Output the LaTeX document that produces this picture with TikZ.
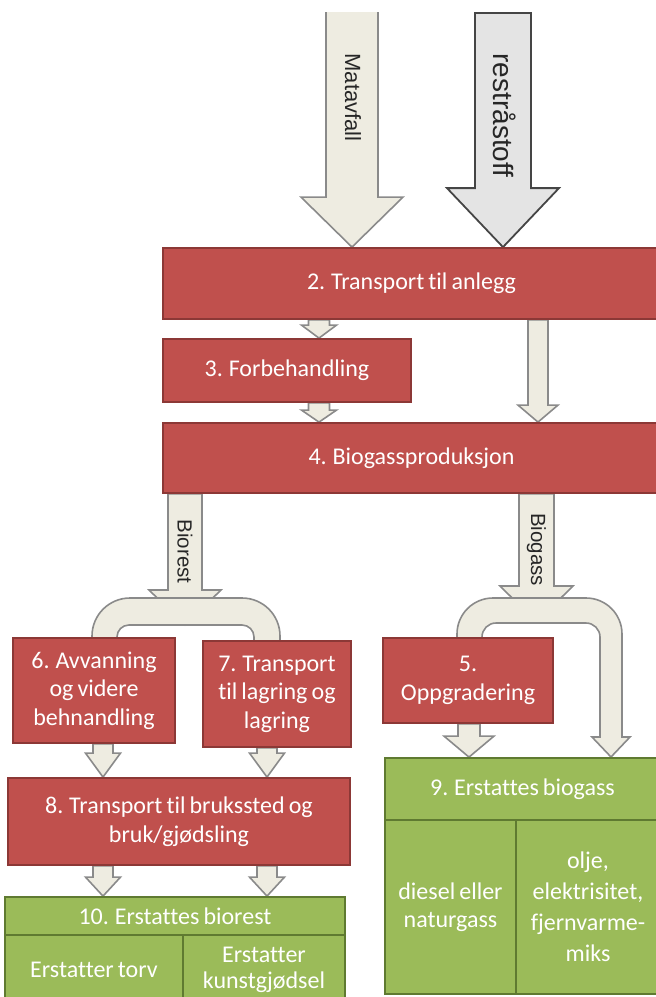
\documentclass[tikz,border=0pt]{standalone}
\usepackage{fontspec}
\setmainfont{Carlito}[Ligatures=CommonOff, WordSpace=0.75]
\newfontfamily\labelfont{Liberation Sans}
\usetikzlibrary{calc}
\pgfdeclarelayer{background}
\pgfsetlayers{background,main}

\definecolor{boxred}{HTML}{C0504D}
\definecolor{redline}{HTML}{8C3836}
\definecolor{boxgreen}{HTML}{9BBB59}
\definecolor{greenline}{HTML}{5F7A31}
\definecolor{pipefill}{HTML}{EEECE1}
\definecolor{pipeline}{HTML}{8A8A8A}
\definecolor{feedfill}{HTML}{E4E4E4}
\definecolor{feedline}{HTML}{454545}

\tikzset{
  boxtext/.style={text=white, align=center, inner sep=0pt,
    font=\fontsize{24}{28.5}\selectfont},
  redbox/.style={boxtext, draw=redline, fill=boxred, line width=1.8pt},
  greenbox/.style={boxtext, draw=greenline, fill=boxgreen, line width=1.8pt},
  pipe/.style={draw=pipeline, fill=pipefill, line width=1.6pt, line join=miter},
  feedpipe/.style={draw=feedline, fill=feedfill, line width=1.8pt, line join=miter},
  flowlabel/.style={rotate=-90, text=black!85, inner sep=0pt},
}

% block arrow: #1 style, #2 start point, #3 tip point,
% #4 half shaft width, #5 half head width, #6 head length
\newcommand\blockarrow[6]{%
  \draw[#1] let \p1=#2, \p2=#3 in
    (\x1-#4,\y1) -- (\x1-#4,\y2+#6) -- (\x1-#5,\y2+#6) -- (\x2,\y2)
    -- (\x1+#5,\y2+#6) -- (\x1+#4,\y2+#6) -- (\x1+#4,\y1) -- cycle;}

\begin{document}
\begin{tikzpicture}[x=1pt,y=-1pt]
\path[use as bounding box, clip] (0,0) rectangle (656,997);

% process boxes
\node[redbox, minimum width=497pt, minimum height=71pt] (b2) at (411.5,283.5) {2. Transport til anlegg};
\node[redbox, minimum width=248pt, minimum height=63pt] (b3) at (287,370.5) {3. Forbehandling};
\node[redbox, minimum width=497pt, minimum height=70pt] (b4) at (411.5,458) {4. Biogassproduksjon};
\node[redbox, minimum width=170pt, minimum height=85pt] (b5) at (468,680.5) {5.\\Oppgradering};
\node[redbox, minimum width=162pt, minimum height=105pt] (b6) at (94,690.5) {6. Avvanning\\og videre\\behnandling};
\node[redbox, minimum width=148pt, minimum height=106pt] (b7) at (277,694) {7. Transport\\til lagring og\\lagring};
\node[redbox, minimum width=342pt, minimum height=87pt] (b8) at (179,821.5) {8. Transport til brukssted og\\bruk/gjødsling};

% substitution boxes
\node[greenbox, minimum width=275pt, minimum height=62pt] (b9) at (522.5,789) {9. Erstattes biogass};
\node[greenbox, minimum width=131pt, minimum height=174pt] (b9a) at (450.5,907) {diesel eller\\naturgass};
\node[greenbox, minimum width=144pt, minimum height=174pt, font=\fontsize{24}{31}\selectfont] (b9b) at (588,907) {olje,\\elektrisitet,\\fjernvarme-\\miks};
\node[greenbox, minimum width=340pt, minimum height=38pt] (b10) at (175,916) {10. Erstattes biorest};
\node[greenbox, minimum width=178pt, minimum height=70pt] (b10a) at (94,970) {Erstatter torv};
\node[greenbox, minimum width=162pt, minimum height=70pt, font=\fontsize{24}{26}\selectfont] (b10b) at (264,970) {Erstatter\\kunstgjødsel};

% arrow axes
\coordinate (xmat) at (352,12);
\coordinate (xrest) at (503,13);
\coordinate (xpre) at (319,0);
\coordinate (xbypass) at (538,0);
\coordinate (xbio) at (185,0);
\coordinate (xgas) at (536.5,0);
\coordinate (xl) at (103,0);
\coordinate (xr) at (267,0);
\coordinate (xup) at (469,0);

\begin{pgfonlayer}{background}
  % incoming flows
  \fill[pipefill] let \p1=(xmat), \p2=(xmat |- b2.north) in
    (\x1-26pt,\y1) -- (\x1-26pt,\y2+50pt) -- (\x1-51pt,\y2+50pt) -- (\x2,\y2)
    -- (\x1+51pt,\y2+50pt) -- (\x1+26pt,\y2+50pt) -- (\x1+26pt,\y1) -- cycle;
  \draw[pipeline, line width=1.6pt, line join=miter] let \p1=(xmat), \p2=(xmat |- b2.north) in
    (\x1-26pt,\y1) -- (\x1-26pt,\y2+50pt) -- (\x1-51pt,\y2+50pt) -- (\x2,\y2)
    -- (\x1+51pt,\y2+50pt) -- (\x1+26pt,\y2+50pt) -- (\x1+26pt,\y1);
  \blockarrow{feedpipe}{(xrest)}{(xrest |- b2.north)}{28pt}{56pt}{59pt}

  % through the plant
  \blockarrow{pipe}{(xpre |- b2.south)}{(xpre |- b3.north)}{10.5pt}{17.5pt}{13pt}
  \blockarrow{pipe}{(xpre |- b3.south)}{(xpre |- b4.north)}{10.5pt}{17.5pt}{12pt}
  \blockarrow{pipe}{(xbypass |- b2.south)}{(xbypass |- b4.north)}{10pt}{20pt}{17pt}

  % outputs of the digester
  \blockarrow{pipe}{(xbio |- b4.south)}{(185,625)}{17pt}{36pt}{35pt}
  \blockarrow{pipe}{(xgas |- b4.south)}{(536.5,622)}{17.5pt}{36.5pt}{36pt}

  % biorest split
  \draw[pipe] (92,650) -- (92,636) arc[start angle=180, end angle=90, radius=38pt]
    -- (242,598) arc[start angle=90, end angle=0, radius=38pt]
    -- (280,650) -- (254,650) -- (254,637) arc[start angle=0, end angle=90, radius=12pt]
    -- (129,625) arc[start angle=90, end angle=180, radius=12pt]
    -- (117,650) -- cycle;

  % biogas split
  \draw[pipe] (457,650) -- (457,634) arc[start angle=180, end angle=90, radius=36pt]
    -- (586,598) arc[start angle=90, end angle=0, radius=36pt]
    -- (622,737) -- (630,737) -- (611,757) -- (592,737) -- (600,737)
    -- (600,637) arc[start angle=0, end angle=90, radius=14pt]
    -- (496,623) arc[start angle=90, end angle=180, radius=14pt]
    -- (482,650) -- cycle;

  % onward flows
  \blockarrow{pipe}{(xup |- b5.south)}{(xup |- b9.north)}{11pt}{25pt}{21pt}
  \blockarrow{pipe}{(xl |- b6.south)}{(xl |- b8.north)}{10pt}{17.5pt}{24pt}
  \blockarrow{pipe}{(xr |- b7.south)}{(xr |- b8.north)}{10pt}{17.5pt}{24pt}
  \blockarrow{pipe}{(xl |- b8.south)}{(xl |- b10.north)}{10pt}{17.5pt}{19pt}
  \blockarrow{pipe}{(xr |- b8.south)}{(xr |- b10.north)}{10pt}{17.5pt}{19pt}
\end{pgfonlayer}

% flow labels
\node[flowlabel, font=\labelfont\fontsize{22}{24}\selectfont] (lmat) at (353,97.5) {Matavfall};
\node[flowlabel, font=\labelfont\fontsize{28}{30}\selectfont] (lrest) at (505,115.5) {restråstoff};
\node[flowlabel, font=\labelfont\fontsize{20.5}{22}\selectfont] (lbio) at (185,551.5) {Biorest};
\node[flowlabel, font=\labelfont\fontsize{20.5}{22}\selectfont] (lgas) at (536.5,549.5) {Biogass};
\end{tikzpicture}
\end{document}
